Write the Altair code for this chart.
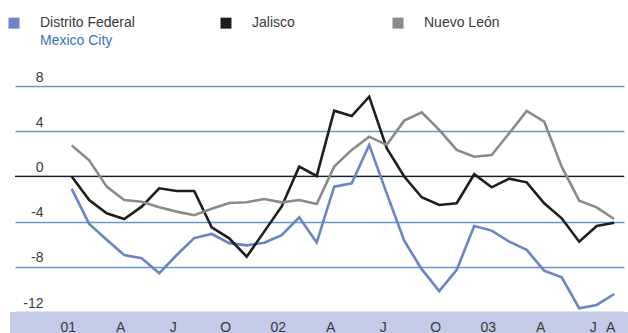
import json
import altair as alt
import pandas as pd

# ---- data (monthly, Jan 2001 .. Aug 2003) ----
month_idx = list(range(32))
series_names = ["Distrito Federal", "Jalisco", "Nuevo León"]
df_values = [-1.1, -4.2, -5.6, -6.95, -7.24, -8.57, -6.95, -5.45,
             -5.09, -5.9, -6.1, -5.86, -5.2, -3.61, -5.85, -0.9,
             -0.6, 2.79, -1.5, -5.68, -8.2, -10.15, -8.27, -4.38,
             -4.79, -5.77, -6.5, -8.33, -8.92, -11.66, -11.37, -10.4]
jal_values = [0.0, -2.08, -3.26, -3.76, -2.67, -1.05, -1.28, -1.28,
              -4.5, -5.47, -7.1, -4.88, -2.65, 0.87, 0.04, 5.82,
              5.35, 7.06, 2.5, 0.0, -1.84, -2.52, -2.37, 0.2,
              -0.96, -0.19, -0.52, -2.37, -3.7, -5.77, -4.38, -4.09]
nl_values = [2.75, 1.43, -0.9, -2.08, -2.23, -2.73, -3.11, -3.43,
             -2.85, -2.35, -2.28, -1.99, -2.29, -2.08, -2.44, 0.87,
             2.35, 3.52, 2.79, 4.94, 5.68, 4.12, 2.35, 1.75,
             1.9, 3.82, 5.8, 4.85, 0.87, -2.14, -2.73, -3.76]
series_colors = ["#6a84c4", "#1e1e1e", "#8a8a8a"]

x_tick_pos = [0, 3, 6, 9, 12, 15, 18, 21, 24, 27, 30, 31]
x_tick_labels = ["01", "A", "J", "O", "02", "A", "J", "O", "03", "A", "J", "A"]
y_ticks = [8, 4, 0, -4, -8, -12]
band_top = [-12]
band_bottom = [-14]
note_text = ["Mexico City"]

FONT = "Liberation Sans"
TXT = "#3a3a3a"

rows = []
for name, vals in zip(series_names, [df_values, jal_values, nl_values]):
    for m, v in zip(month_idx, vals):
        rows.append({"series": name, "m": m, "v": v})
data = pd.DataFrame(rows)

full_labels = [""] * 32
for p, l in zip(x_tick_pos, x_tick_labels):
    full_labels[p] = l
x_label_expr = json.dumps(full_labels) + "[datum.value]"

x_scale = alt.Scale(domain=[-3.24, 31.56], nice=False, zero=False)
y_scale = alt.Scale(domain=[-13.85, 9.42], nice=False, zero=False)

y_axis = alt.Axis(
    values=y_ticks,
    labelExpr="datum.value + ''",
    grid=True,
    gridColor="#6a97ca",
    gridWidth=1.3,
    domain=False,
    ticks=False,
    tickSize=0,
    labelPadding=-28,
    labelAlign="right",
    labelBaseline="alphabetic",
    labelOffset=-5,
    labelFont=FONT,
    labelFontSize=14,
    labelColor=TXT,
    labelOverlap=False,
    labelFlush=False,
    title=None,
)

x_axis = alt.Axis(
    values=x_tick_pos,
    labelExpr=x_label_expr,
    grid=False,
    domain=False,
    ticks=False,
    tickSize=0,
    labelPadding=-2,
    labelBaseline="alphabetic",
    labelOffset=-4,
    labelFont=FONT,
    labelFontSize=14,
    labelColor=TXT,
    labelOverlap=False,
    labelFlush=False,
    zindex=2,
    title=None,
)

band = alt.Chart(pd.DataFrame({"top": band_top, "bot": band_bottom})).mark_rect(
    color="#c4cbe6", clip=False
).encode(
    y=alt.Y("top:Q", scale=y_scale, axis=y_axis),
    y2="bot:Q",
    x=alt.value(-5),
    x2=alt.value(613),
)

zero_rule = alt.Chart(pd.DataFrame({"z": [0]})).mark_rule(
    color="#1e1e1e", strokeWidth=1.2
).encode(y=alt.Y("z:Q", scale=y_scale, axis=y_axis))

jal_label = "Jalisco\u00a0\u00a0\u00a0\u200b"
legend_label_expr = "datum.label == 'Jalisco' ? '" + jal_label + "' : datum.label"

lines = alt.Chart(data).mark_line(strokeWidth=2.6).encode(
    x=alt.X("m:Q", scale=x_scale, axis=x_axis),
    y=alt.Y("v:Q", scale=y_scale, axis=y_axis),
    color=alt.Color(
        "series:N",
        scale=alt.Scale(domain=series_names, range=series_colors),
        legend=alt.Legend(
            title=None,
            orient="none",
            legendX=-8,
            legendY=-54,
            direction="horizontal",
            columns=3,
            symbolType="square",
            symbolSize=30,
            symbolStrokeWidth=5.5,
            labelFont=FONT,
            labelFontSize=14,
            labelColor=TXT,
            labelOffset=19,
            columnPadding=77,
            padding=0,
            labelExpr=legend_label_expr,
        ),
    ),
)

note = alt.Chart(pd.DataFrame({"t": note_text})).mark_text(
    align="left", baseline="alphabetic", font=FONT, fontSize=14, color="#3b72bf"
).encode(text="t:N", x=alt.value(25), y=alt.value(-25))

chart = (
    alt.layer(band, zero_rule, lines, note)
    .properties(
        width=609,
        height=263,
        autosize=alt.AutoSizeParams(type="none"),
        padding={"left": 15, "top": 70, "right": 4, "bottom": 0},
    )
    .configure_view(stroke=None)
)

chart.save("out.html", embed_options={"renderer": "svg", "actions": False})
